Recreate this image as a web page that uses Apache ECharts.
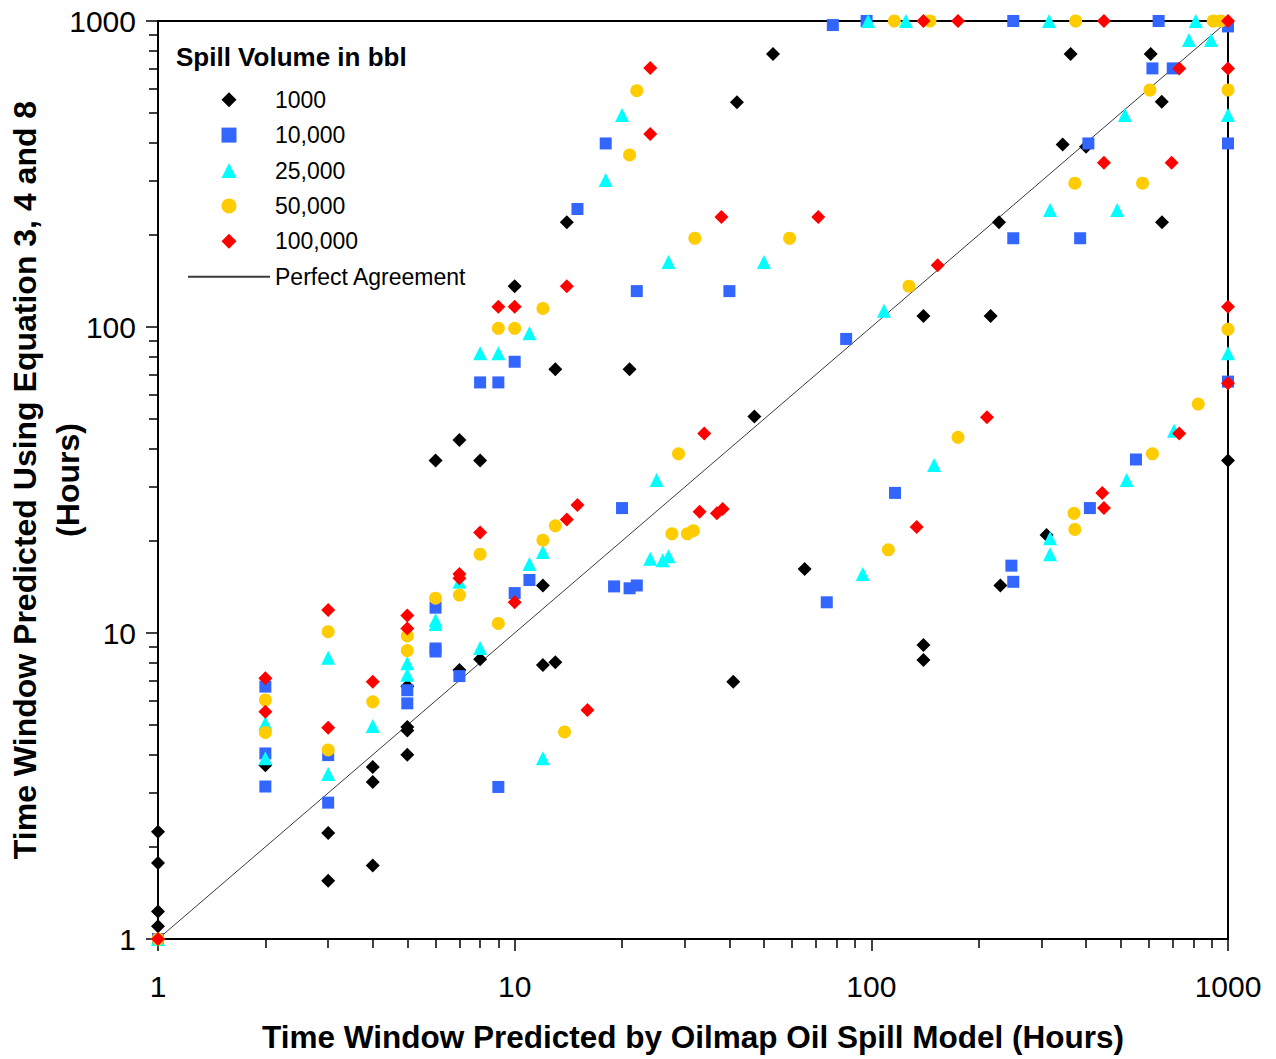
<!DOCTYPE html>
<html>
<head>
<meta charset="utf-8">
<title>Time window comparison</title>
<script src="https://cdn.jsdelivr.net/npm/echarts@6/dist/echarts.min.js"></script>
<style>
  html, body { margin: 0; padding: 0; background: #ffffff; }
  #chart { width: 1276px; height: 1059px; }
</style>
</head>
<body>
<div id="chart"></div>
<script>
// Time window (hours): [Oilmap model, Equations 3, 4 and 8]
const spill1000 = [
  [1, 2.24], [1, 1.77], [1, 1.23], [1, 1.1],
  [2, 3.7],
  [3, 2.22], [3, 1.55],
  [4, 3.65], [4, 3.26], [4, 1.74],
  [5, 6.7], [5, 4.93], [5, 4.8], [5, 4.0],
  [6, 36.6],
  [7, 42.7], [7, 7.57],
  [8, 36.6], [8, 8.2],
  [10, 136],
  [12, 14.3], [12, 7.86],
  [13, 72.7], [13, 8.02],
  [14, 220],
  [21, 72.7],
  [41, 6.93],
  [42, 543],
  [47, 51],
  [53, 780],
  [65, 16.2],
  [140, 108.6], [140, 9.14], [140, 8.16],
  [216, 108.6],
  [228, 220],
  [230, 14.3],
  [310, 20.9],
  [344, 395],
  [362, 780],
  [400, 388],
  [607, 780],
  [652, 545],
  [653, 220],
  [1000, 36.6]
];

const spill10000 = [
  [1, 1],
  [2, 6.68], [2, 4.04], [2, 3.15],
  [3, 3.99], [3, 2.79],
  [5, 6.5], [5, 5.89],
  [6, 12.1], [6, 8.9], [6, 8.7],
  [7, 7.23],
  [8, 65.9],
  [9, 65.9], [9, 3.14],
  [10, 77], [10, 13.5],
  [11, 14.9],
  [15, 243],
  [18, 398],
  [19, 14.2],
  [20, 25.6],
  [21, 14.0],
  [22, 131], [22, 14.3],
  [40, 131],
  [75, 12.6],
  [78, 970],
  [85, 91.4],
  [97, 1000],
  [116.5, 28.7],
  [247, 16.6],
  [250, 1000], [250, 195], [250, 14.7],
  [385, 195],
  [406, 398],
  [410, 25.6],
  [552, 36.9],
  [614, 700],
  [639, 1000],
  [700, 700],
  [1000, 960], [1000, 398], [1000, 66.3]
];

const spill25000 = [
  [1, 1],
  [2, 5.07], [2, 3.9],
  [3, 8.3], [3, 3.46],
  [4, 4.97],
  [5, 7.97], [5, 7.3],
  [6, 11.0], [6, 10.7],
  [7, 14.7],
  [8, 82], [8, 8.93],
  [9, 82],
  [11, 95.4], [11, 16.8],
  [12, 18.4], [12, 3.9],
  [18, 302],
  [20, 493],
  [24, 17.5],
  [25, 31.6],
  [26, 17.3],
  [27, 163], [27, 17.8],
  [50, 163],
  [94.6, 15.6],
  [98, 1000],
  [108.5, 113],
  [125, 1000],
  [150, 35.4],
  [315, 1000],
  [317, 241], [317, 20.4], [317, 18.1],
  [489, 241],
  [514, 493],
  [520, 31.6],
  [706, 45.8],
  [777, 867],
  [812, 1000],
  [896, 867],
  [1000, 493], [1000, 82]
];

const spill50000 = [
  [1, 1],
  [2, 6.04], [2, 4.73],
  [3, 10.1], [3, 4.15],
  [4, 5.96],
  [5, 9.78], [5, 8.76],
  [6, 13.0],
  [7, 13.3],
  [8, 18.1],
  [9, 99], [9, 10.75],
  [10, 99],
  [12, 115], [12, 20.1],
  [13, 22.4],
  [13.8, 4.75],
  [21, 365],
  [22, 592],
  [27.6, 21.1],
  [28.8, 38.5],
  [30.5, 21.1],
  [31.7, 21.6],
  [32, 195],
  [59, 195],
  [111.6, 18.7],
  [116, 1000],
  [127.5, 136],
  [146, 1000],
  [175, 43.6],
  [370, 24.6],
  [372, 21.8], [372, 295],
  [374, 1000],
  [576, 295],
  [604, 595],
  [614, 38.5],
  [825, 56],
  [909, 1000],
  [954, 1000],
  [1000, 595], [1000, 98.3]
];

const spill100000 = [
  [1, 1],
  [2, 7.11], [2, 5.53],
  [3, 11.9], [3, 4.9],
  [4, 6.93],
  [5, 11.4], [5, 10.35],
  [7, 15.6], [7, 15.1],
  [8, 21.3],
  [9, 116.5],
  [10, 116.5], [10, 12.6],
  [14, 136], [14, 23.5],
  [15, 26.2],
  [16, 5.6],
  [24, 702], [24, 427],
  [33, 24.9],
  [34, 44.9],
  [36.9, 24.6],
  [38, 229],
  [38.3, 25.4],
  [71, 229],
  [134, 22.2],
  [140, 1000],
  [153.5, 159],
  [175, 1000],
  [211, 50.7],
  [444, 28.7],
  [449, 1000], [449, 344], [449, 25.6],
  [695, 344],
  [730, 700], [730, 44.9],
  [1000, 1000], [1000, 700], [1000, 116.5], [1000, 65.5]
];

// 1:1 reference line end points
const perfectAgreement = [[1, 1], [1000, 1000]];

// Axis ticks
const majorTicks = [1, 10, 100, 1000];
const minorTicks = [2, 3, 4, 5, 6, 7, 8, 9,
                    20, 30, 40, 50, 60, 70, 80, 90,
                    200, 300, 400, 500, 600, 700, 800, 900];

const FONT = "'Liberation Sans', Arial, Helvetica, sans-serif";

// Legend icons as paths so they keep their aspect ratio inside the wide icon box
const ICON_DIAMOND = 'path://M0,-1L1,0L0,1L-1,0Z';
const ICON_SQUARE = 'path://M-1,-1L1,-1L1,1L-1,1Z';
const ICON_TRIANGLE = 'path://M0,-1L1,1L-1,1Z';
const ICON_CIRCLE = 'path://M-1,0A1,1,0,1,0,1,0A1,1,0,1,0,-1,0Z';

const seriesDefs = [
  { name: '1000',    data: spill1000,   symbol: 'diamond',  icon: ICON_DIAMOND,  size: 14, color: '#000000' },
  { name: '10,000',  data: spill10000,  symbol: 'rect',     icon: ICON_SQUARE,   size: 12, color: '#3366FF' },
  { name: '25,000',  data: spill25000,  symbol: 'triangle', icon: ICON_TRIANGLE, size: 14, color: '#00FFFF' },
  { name: '50,000',  data: spill50000,  symbol: 'circle',   icon: ICON_CIRCLE,   size: 13, color: '#FFCC00' },
  { name: '100,000', data: spill100000, symbol: 'diamond',  icon: ICON_DIAMOND,  size: 14, color: '#FF0000' }
];

const gridBox = { left: 158, right: 48, top: 21, bottom: 120, outerBoundsMode: 'none', containLabel: false };
const black = '#000000';

function majorAxis(extra) {
  return Object.assign({
    type: 'log',
    logBase: 10,
    min: 1,
    max: 1000,
    gridIndex: 0,
    nameMoveOverlap: false,
    axisLine: { show: true, onZero: false, lineStyle: { color: black, width: 2 } },
    axisTick: { show: true, customValues: majorTicks, length: 12, inside: false,
                lineStyle: { color: black, width: 1.5 } },
    splitLine: { show: false },
    minorTick: { show: false },
    minorSplitLine: { show: false }
  }, extra);
}

function minorAxis() {
  return {
    type: 'log',
    logBase: 10,
    min: 1,
    max: 1000,
    gridIndex: 1,
    axisLine: { show: false, onZero: false },
    axisTick: { show: true, customValues: minorTicks, length: 9, inside: false,
                lineStyle: { color: black, width: 1.5 } },
    axisLabel: { show: false },
    splitLine: { show: false }
  };
}

const chart = echarts.init(document.getElementById('chart'), null, { renderer: 'svg' });

chart.setOption({
  animation: false,
  backgroundColor: '#ffffff',
  title: {
    text: 'Spill Volume in bbl',
    left: 176,
    top: 44,
    padding: 0,
    textStyle: { fontSize: 26, fontWeight: 'bold', color: black, fontFamily: FONT }
  },
  legend: {
    orient: 'vertical',
    left: 187,
    top: 82,
    padding: 0,
    itemWidth: 82,
    itemHeight: 15,
    itemGap: 0,
    symbolKeepAspect: true,
    selectedMode: false,
    textStyle: { fontSize: 23, color: black, fontFamily: FONT, lineHeight: 35.4 },
    data: seriesDefs.map(s => ({ name: s.name, icon: s.icon })).concat([
      { name: 'Perfect Agreement', itemStyle: { color: 'rgba(0,0,0,0)', opacity: 0, borderWidth: 0 } }
    ])
  },
  grid: [
    Object.assign({ show: true, borderColor: black, borderWidth: 2, backgroundColor: 'transparent' }, gridBox),
    Object.assign({ show: false }, gridBox)
  ],
  xAxis: [
    majorAxis({
      name: 'Time Window Predicted by Oilmap Oil Spill Model (Hours)',
      nameLocation: 'middle',
      nameGap: 82,
      nameTextStyle: { fontSize: 31.5, fontWeight: 'bold', color: black, fontFamily: FONT },
      axisLabel: { show: true, customValues: majorTicks, color: black, fontSize: 30, margin: 32,
                   fontFamily: FONT, formatter: v => String(Math.round(v)) }
    }),
    minorAxis()
  ],
  yAxis: [
    majorAxis({
      name: 'Time Window Predicted Using Equation 3, 4 and 8\n(Hours)',
      nameLocation: 'middle',
      nameRotate: 90,
      nameGap: 68.5,
      nameTextStyle: { fontSize: 32, fontWeight: 'bold', color: black, fontFamily: FONT,
                       lineHeight: 43, align: 'center' },
      axisLabel: { show: true, customValues: majorTicks, color: black, fontSize: 30, margin: 22,
                   fontFamily: FONT, formatter: v => String(Math.round(v)) }
    }),
    minorAxis()
  ],
  series: [
    {
      name: 'Perfect Agreement',
      type: 'line',
      xAxisIndex: 0,
      yAxisIndex: 0,
      data: perfectAgreement,
      symbol: 'none',
      silent: true,
      z: 1,
      lineStyle: { color: '#3a3a3a', width: 1 }
    }
  ].concat(seriesDefs.map(s => ({
    name: s.name,
    type: 'scatter',
    xAxisIndex: 0,
    yAxisIndex: 0,
    data: s.data,
    symbol: s.symbol,
    symbolSize: s.size,
    clip: false,
    z: 2,
    itemStyle: { color: s.color, opacity: 1 },
    emphasis: { disabled: true }
  })))
});
</script>
</body>
</html>
